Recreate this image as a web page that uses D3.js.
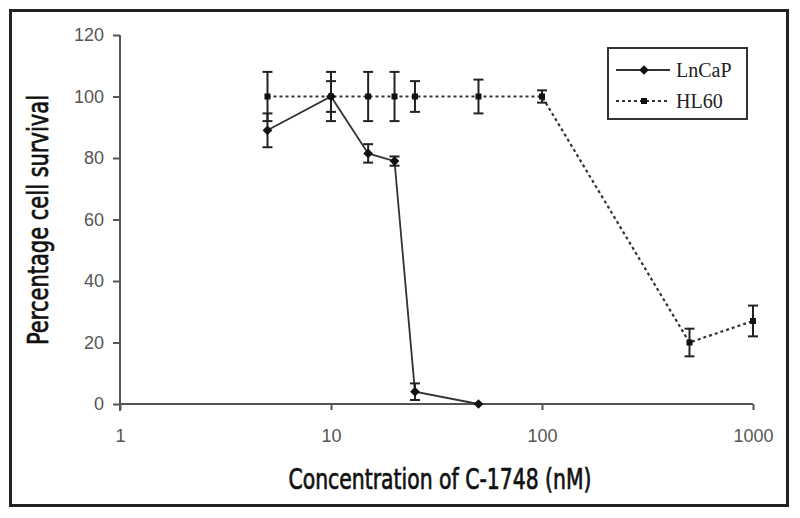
<!DOCTYPE html>
<html>
<head>
<meta charset="utf-8">
<script src="https://cdn.jsdelivr.net/npm/d3@7"></script>
<style>
	body { margin: 0; background: #fff; }
	svg { display: block; }
</style>
</head>
<body>
<div id="chart"></div>
<script>
// valeurs
const lncapX = [5, 10, 15, 20, 25, 50];
const lncapY = [89, 100, 81.5, 79, 4, 0];
const lncapErr = [5.5, 5, 3, 1.5, 2.7, 0];
const hl60X = [5, 10, 15, 20, 25, 50, 100, 500, 1000];
const hl60Y = [100, 100, 100, 100, 100, 100, 100, 20, 27];
const hl60Err = [8, 8, 8, 8, 5, 5.5, 2, 4.5, 5];
const xTicks = [1, 10, 100, 1000];
const yTicks = [0, 20, 40, 60, 80, 100, 120];
const seriesNames = ["LnCaP", "HL60"];

const width = 800, height = 518;
const plotLeft = 120, plotRight = 753, plotTop = 35, plotBottom = 404;

const svg = d3.select("#chart").append("svg")
	.attr("width", width)
	.attr("height", height);

// cadre
svg.append("rect")
	.attr("x", 10.5).attr("y", 10.5)
	.attr("width", 777).attr("height", 495)
	.attr("fill", "#fff")
	.attr("stroke", "#222")
	.attr("stroke-width", 3);

const x = d3.scaleLog().domain([1, 1000]).range([plotLeft, plotRight]);
const y = d3.scaleLinear().domain([0, 120]).range([plotBottom, plotTop]);

// axe Y
const yAxis = svg.append("g")
	.attr("transform", `translate(${plotLeft},0)`)
	.call(d3.axisLeft(y).tickValues(yTicks).tickSize(7).tickPadding(9));
yAxis.select(".domain").attr("d", `M0,${plotTop}V${plotBottom + 7}`);

// axe X
const xAxis = svg.append("g")
	.attr("transform", `translate(0,${plotBottom})`)
	.call(d3.axisBottom(x).tickValues(xTicks).tickFormat(d3.format("d")).tickSize(6).tickPadding(19));
xAxis.select(".domain").attr("d", `M${plotLeft},0H${plotRight}`);

svg.selectAll(".domain, .tick line")
	.attr("stroke", "#555")
	.attr("stroke-width", 2);
svg.selectAll(".tick text")
	.attr("fill", "#555")
	.style("font-family", "Liberation Sans, Arial, sans-serif")
	.style("font-size", "18px");

// titres des axes
svg.append("text")
	.attr("x", 440).attr("y", 489)
	.attr("text-anchor", "middle")
	.attr("textLength", 303)
	.attr("lengthAdjust", "spacingAndGlyphs")
	.style("font-family", "DejaVu Sans Condensed, DejaVu Sans, sans-serif")
	.style("font-size", "29px")
	.attr("fill", "#111")
	.attr("stroke", "#111")
	.attr("stroke-width", 0.7)
	.text("Concentration of C-1748 (nM)");

svg.append("text")
	.attr("transform", "translate(48,220) rotate(-90)")
	.attr("text-anchor", "middle")
	.attr("textLength", 250)
	.attr("lengthAdjust", "spacingAndGlyphs")
	.style("font-family", "DejaVu Sans Condensed, DejaVu Sans, sans-serif")
	.style("font-size", "29px")
	.attr("fill", "#111")
	.attr("stroke", "#111")
	.attr("stroke-width", 0.7)
	.text("Percentage cell survival");

const line = d3.line().x(d => x(d[0])).y(d => y(d[1]));

function drawSeries(xs, ys, errs, dashed, marker) {
	const pts = xs.map((v, i) => [v, ys[i], errs[i]]);
	const g = svg.append("g");
	g.append("path")
		.attr("d", line(pts))
		.attr("fill", "none")
		.attr("stroke", "#333")
		.attr("stroke-width", dashed ? 2.2 : 1.8)
		.attr("stroke-dasharray", dashed ? "3,3" : null);
	const eb = g.selectAll(".err")
		.data(pts.filter(p => p[2] > 0))
		.enter().append("g")
		.attr("stroke", "#222")
		.attr("stroke-width", 2);
	eb.append("line")
		.attr("x1", d => x(d[0])).attr("x2", d => x(d[0]))
		.attr("y1", d => y(d[1] + d[2])).attr("y2", d => y(d[1] - d[2]));
	eb.append("line")
		.attr("x1", d => x(d[0]) - 5).attr("x2", d => x(d[0]) + 5)
		.attr("y1", d => y(d[1] + d[2])).attr("y2", d => y(d[1] + d[2]));
	eb.append("line")
		.attr("x1", d => x(d[0]) - 5).attr("x2", d => x(d[0]) + 5)
		.attr("y1", d => y(d[1] - d[2])).attr("y2", d => y(d[1] - d[2]));
	g.selectAll(".pt")
		.data(pts)
		.enter().append("path")
		.attr("transform", d => `translate(${x(d[0])},${y(d[1])})`)
		.attr("d", marker)
		.attr("fill", "#111");
}

const diamond = d3.symbol().type(d3.symbolDiamond2).size(60)();
const square = "M-3,-3H3V3H-3Z";

drawSeries(hl60X, hl60Y, hl60Err, true, square);
drawSeries(lncapX, lncapY, lncapErr, false, diamond);

// légende
const leg = svg.append("g");
leg.append("rect")
	.attr("x", 608).attr("y", 48)
	.attr("width", 139).attr("height", 71)
	.attr("fill", "#fff")
	.attr("stroke", "#333")
	.attr("stroke-width", 2);
const legItems = leg.selectAll(".item")
	.data(seriesNames)
	.enter().append("g")
	.attr("transform", (d, i) => `translate(0,${i === 0 ? 70 : 101})`);
legItems.append("line")
	.attr("x1", 616).attr("x2", 670)
	.attr("stroke", "#333")
	.attr("stroke-width", (d, i) => i === 0 ? 1.8 : 2.2)
	.attr("stroke-dasharray", (d, i) => i === 0 ? null : "3,3");
legItems.append("path")
	.attr("transform", "translate(644,0)")
	.attr("d", (d, i) => i === 0 ? diamond : square)
	.attr("fill", "#111");
legItems.append("text")
	.attr("x", 676).attr("y", 7)
	.style("font-family", "Liberation Serif, Times New Roman, serif")
	.style("font-size", "20px")
	.attr("fill", "#222")
	.text(d => d);
</script>
</body>
</html>
